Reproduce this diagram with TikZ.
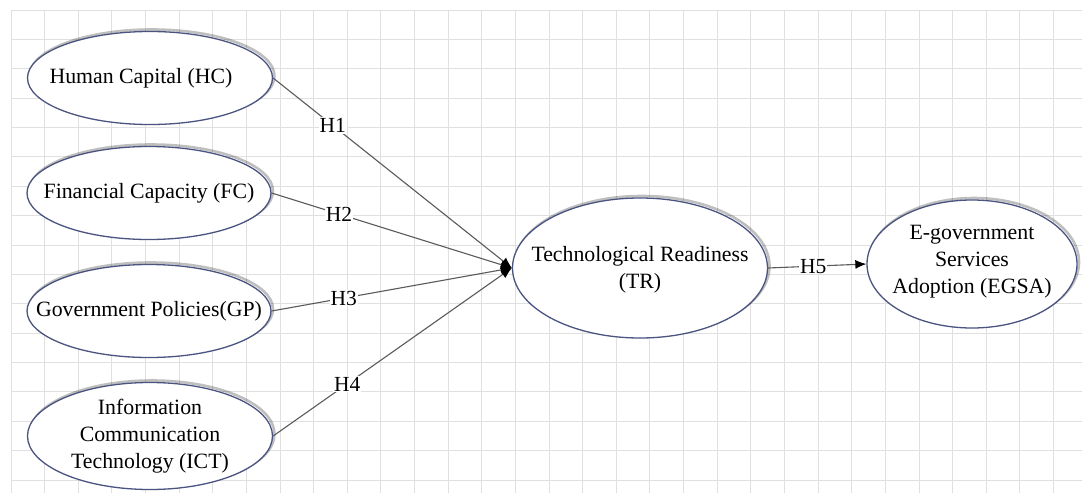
\documentclass[tikz,border=0pt]{standalone}
\usepackage{fontspec}
\setmainfont{Liberation Serif}
\usetikzlibrary{shapes.geometric,arrows.meta,shadows}
\definecolor{gridc}{HTML}{E0E0E0}
\definecolor{ellc}{HTML}{4B5480}
\definecolor{linec}{HTML}{5A5A5A}
\begin{document}
\begin{tikzpicture}[x=1pt,y=-1pt,
  construct/.style={ellipse, draw=ellc, line width=1.3pt, fill=white, inner sep=0pt,
    drop shadow={shadow xshift=2pt, shadow yshift=2pt, fill=none, draw=black, line width=2.6pt, opacity=0.25}},
  ctext/.style={align=center, font=\fontsize{21.8}{27}\selectfont, inner sep=0pt},
  hyp/.style={draw=linec, line width=1.1pt, -{Latex[length=11pt,width=9pt,color=black]}},
  hlabel/.style={fill=white, inner sep=1pt, font=\fontsize{21.5}{24}\selectfont}
]
\useasboundingbox (0,0) rectangle (1082,493);
\fill[white] (0,0) rectangle (1082,493);
% grid
\foreach \k in {0,...,31} { \draw[gridc, line width=1pt] ({11+33.63*\k},10) -- ({11+33.63*\k},493); }
\foreach \k in {0,...,16} { \draw[gridc, line width=1pt] (11,{10+29.375*\k}) -- (1082,{10+29.375*\k}); }
% constructs
\node[construct, minimum width=245pt, minimum height=93pt] (HC) at (150,78) {};
\node[ctext] (HCt) at ([xshift=-9pt]HC.center) {Human Capital (HC)};
\node[construct, minimum width=244pt, minimum height=93pt] (FC) at (149,193) {};
\node[ctext] (FCt) at (FC.center) {Financial Capacity (FC)};
\node[construct, minimum width=244pt, minimum height=93pt] (GP) at (149,311) {};
\node[ctext] (GPt) at (GP.center) {Government Policies(GP)};
\node[construct, minimum width=245pt, minimum height=107pt] (ICT) at (150,436) {};
\node[ctext] (ICTt) at (ICT.center) {Information\\Communication\\Technology (ICT)};
\node[construct, minimum width=255pt, minimum height=140pt] (TR) at (640,268) {};
\node[ctext] (TRt) at ([yshift=-2pt]TR.center) {Technological Readiness\\(TR)};
\node[construct, minimum width=210pt, minimum height=128pt] (EGSA) at (972,264) {};
\node[ctext] (EGSAt) at ([yshift=2pt]EGSA.center) {E-government\\Services\\Adoption (EGSA)};
% hypotheses
\draw[hyp] (HC.east) -- node[hlabel, pos=0.25] (h1) {H1} (TR.west);
\draw[hyp] (FC.east) -- node[hlabel, pos=0.28] (h2) {H2} (TR.west);
\draw[hyp] (GP.east) -- node[hlabel, pos=0.30] (h3) {H3} (TR.west);
\draw[hyp] (ICT.east) -- node[hlabel, pos=0.31] (h4) {H4} (TR.west);
\draw[hyp] (TR.east) -- node[hlabel, pos=0.46] (h5) {H5} (EGSA.west);
\end{tikzpicture}
\end{document}
